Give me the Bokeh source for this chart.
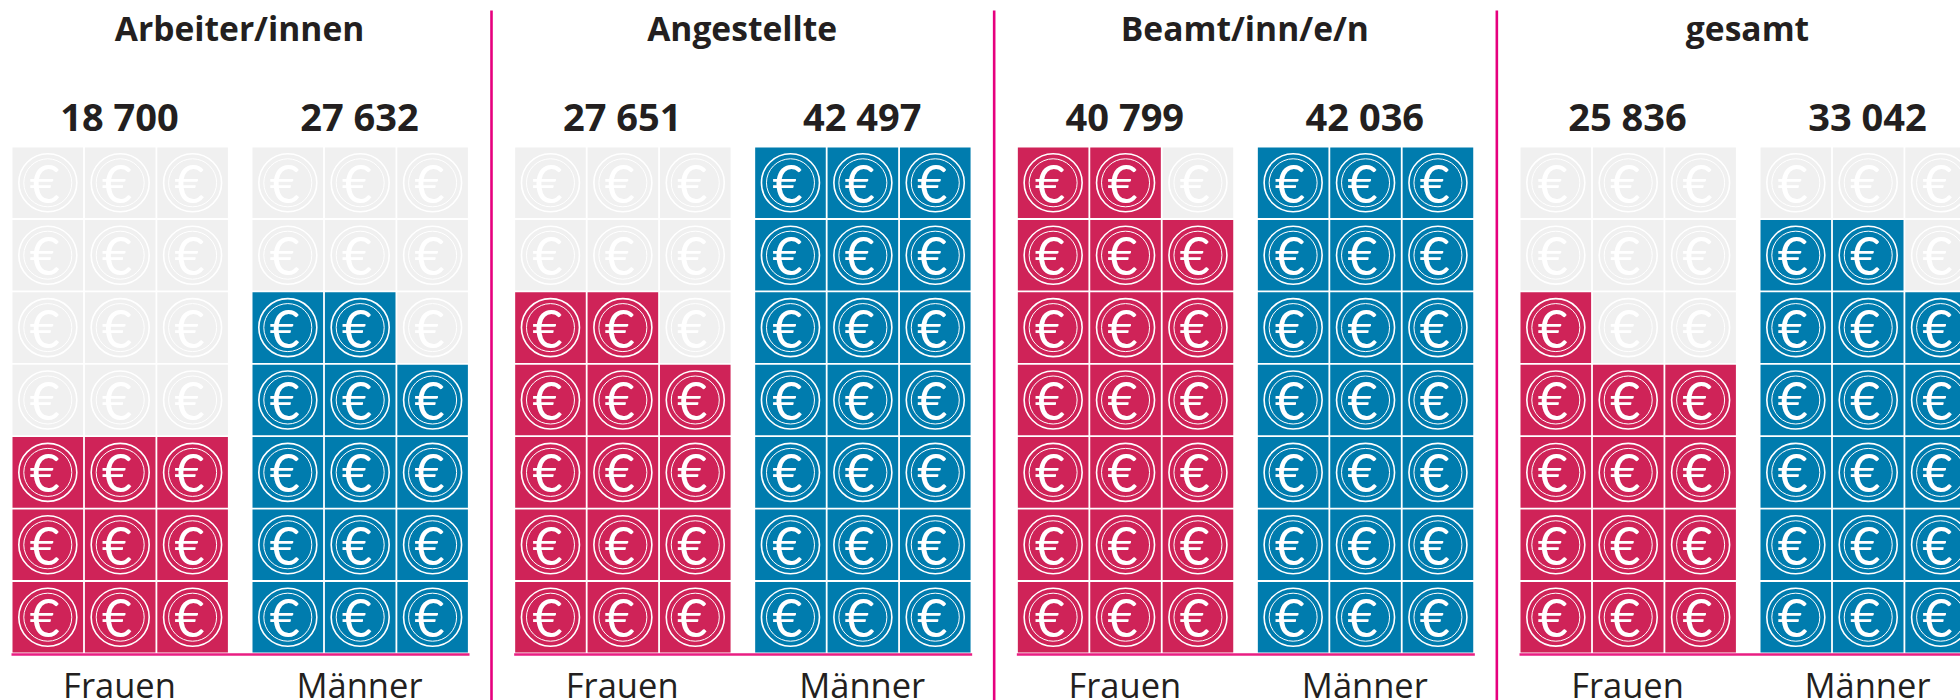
from bokeh.plotting import figure
from bokeh.models import Range1d, ColumnDataSource
from bokeh.core.properties import value
from bokeh.embed import file_html
from bokeh.resources import INLINE

# ---- data ----
groups = ["Arbeiter/innen", "Angestellte", "Beamt/inn/e/n", "gesamt"]
sexes = ["Frauen", "Männer"]
frauen_labels = ["18 700", "27 651", "40 799", "25 836"]
maenner_labels = ["27 632", "42 497", "42 036", "33 042"]
frauen_coins = [9, 14, 20, 13]
maenner_coins = [14, 21, 21, 17]

# ---- layout (page pixels) ----
W, H = 1960, 700
PANEL = 502.67
SEX_X = [12.0, 252.0]
PITCH = 72.4
CELL = 70.6
TOP = 147.0
ROWS, COLS = 7, 3
R_OUT, R_IN = 29.0, 24.0
PINK, BLUE, GREY = "#cf2358", "#007cae", "#f0f0f0"
LINE = "#e6007e"
BASE = "#e91e82"
INK = "#231f20"
FONT = "Open Sans"

p = figure(width=W, height=H, output_backend="svg", toolbar_location=None,
           x_range=Range1d(0, W), y_range=Range1d(H, 0),
           x_axis_location=None, y_axis_location=None,
           min_border=0, outline_line_color=None, tools="")
p.grid.visible = False
p.background_fill_color = "white"

cells = dict(l=[], r=[], t=[], b=[], c=[])
rings = dict(x=[], y=[])
for g in range(len(groups)):
    for s, coins in enumerate((frauen_coins, maenner_coins)):
        x0 = SEX_X[s] + g * PANEL
        for r in range(ROWS):
            for c in range(COLS):
                idx = r * COLS + c
                filled = idx < coins[g]
                left = x0 + c * PITCH
                top = TOP + (ROWS - 1 - r) * PITCH
                cells["l"].append(left)
                cells["r"].append(left + CELL)
                cells["t"].append(top)
                cells["b"].append(top + CELL)
                cells["c"].append((PINK if s == 0 else BLUE) if filled else GREY)
                rings["x"].append(left + CELL / 2)
                rings["y"].append(top + CELL / 2)

p.quad(left="l", right="r", top="t", bottom="b", fill_color="c", line_color=None,
       source=ColumnDataSource(cells))
rs = ColumnDataSource(rings)
p.circle(x="x", y="y", radius=R_OUT, fill_color=None, line_color="white", line_width=1.6, source=rs)
p.circle(x="x", y="y", radius=R_IN, fill_color=None, line_color="white", line_width=1.0, source=rs)
p.text(x="x", y="y", text=value("€"), source=rs, text_color="white",
       text_font=value("Lato"), text_font_size="52px", text_align="center",
       text_baseline="middle", x_offset=-3)

# baselines and separators
for g in range(len(groups)):
    p.line([11 + g * PANEL, 469 + g * PANEL], [654, 654], line_color=BASE, line_width=2.4)
    if g:
        xs = 491 + (g - 1) * PANEL
        p.line([xs, xs], [10, H], line_color=LINE, line_width=2.6)

# texts
for g, name in enumerate(groups):
    p.text([239 + g * PANEL], [27], text=[name], text_color=INK, text_font=value(FONT),
           text_font_style="bold", text_font_size="33.6px", text_align="center", text_baseline="middle")
    for s, lab in enumerate((frauen_labels[g], maenner_labels[g])):
        cx = SEX_X[s] + 107 + g * PANEL
        p.text([cx], [115], text=[lab], text_color=INK, text_font=value(FONT),
               text_font_style="bold", text_font_size="38px", text_align="center", text_baseline="middle")
        p.text([cx], [684], text=[sexes[s]], text_color=INK, text_font=value(FONT),
               text_font_size="34.5px", text_align="center", text_baseline="middle")

open("out.html", "w").write(file_html(p, INLINE))
